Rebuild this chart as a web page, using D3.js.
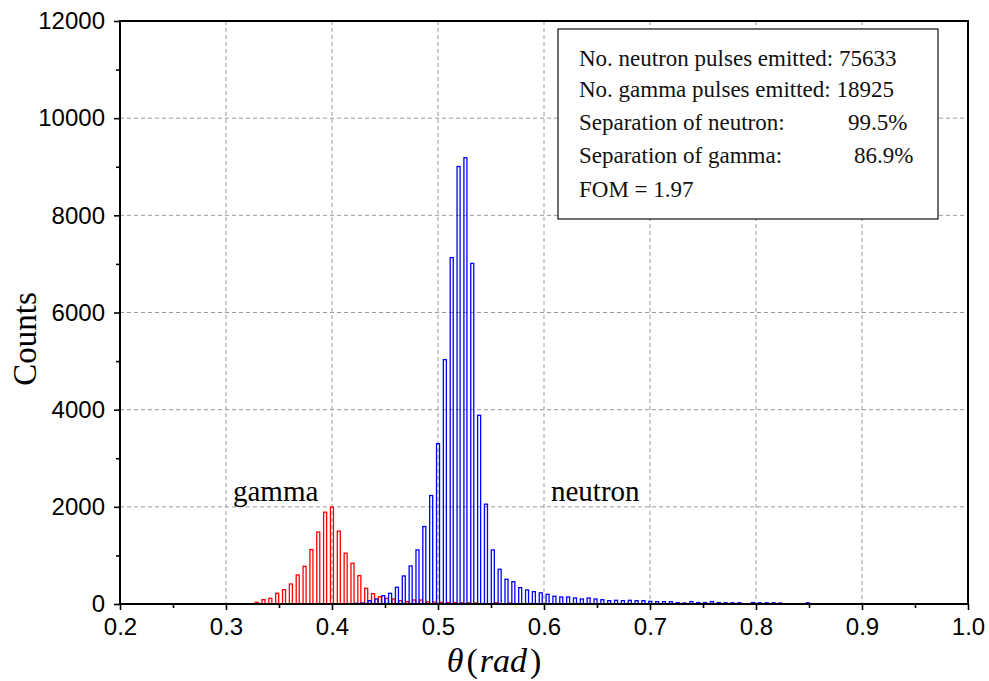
<!DOCTYPE html>
<html>
<head>
<meta charset="utf-8">
<script src="https://cdn.jsdelivr.net/npm/d3@7"></script>
<style>
  html, body { margin: 0; padding: 0; background: #fff; }
  svg { display: block; }
</style>
</head>
<body>
<svg id="chart" width="989" height="681"></svg>
<script>
// ---------------- DATA ----------------
const xTickValues = [0.2, 0.3, 0.4, 0.5, 0.6, 0.7, 0.8, 0.9, 1.0];
const xTickLabels = ["0.2", "0.3", "0.4", "0.5", "0.6", "0.7", "0.8", "0.9", "1.0"];
const xMinorTicks = [0.25, 0.35, 0.45, 0.55, 0.65, 0.75, 0.85, 0.95];
const yTickValues = [0, 2000, 4000, 6000, 8000, 10000, 12000];
const yTickLabels = ["0", "2000", "4000", "6000", "8000", "10000", "12000"];
const yMinorTicks = [1000, 3000, 5000, 7000, 9000, 11000];

const binWidth = 0.00646;          // histogram bin width (rad)
const gammaFirstCenter = 0.3289;   // centre of first gamma bin
const neutronFirstCenter = 0.4225; // centre of first neutron bin

const gammaCounts = [34, 89, 117, 220, 296, 412, 598, 777, 1120, 1480,
  1890, 1995, 1500, 1045, 838, 584, 323, 213, 151, 117,
  103, 69, 48, 82, 82, 45, 40, 35, 30, 30,
  25, 25, 20, 0, 0, 25, 0, 20];

const neutronCounts = [15, 20, 68, 103, 171, 220, 344, 577, 783, 1113, 1594, 2233,
  3300, 5030, 7130, 9005, 9185, 7010, 3885, 2055, 1113, 715,
  509, 460, 337, 289, 254, 230, 200, 160, 144, 144,
  124, 103, 124, 103, 89, 69, 76, 69, 76, 69,
  69, 55, 48, 48, 48, 27, 21, 50, 30, 30,
  50, 30, 25, 25, 25, 0, 30, 25, 25, 25,
  20, 0, 0, 0, 25];

const infoLines = [
  "No. neutron pulses emitted: 75633",
  "No. gamma pulses emitted: 18925",
  "Separation of neutron:",
  "Separation of gamma:",
  "FOM = 1.97"
];
const infoValues = ["", "", "99.5%", "86.9%", ""];

// ---------------- LAYOUT ----------------
const svg = d3.select("#chart");
const L = 120, R = 968, T = 21, B = 604;

const x = d3.scaleLinear().domain([0.2, 1.0]).range([L, R]);
const y = d3.scaleLinear().domain([0, 12000]).range([B, T]);

const sans = "'Liberation Sans', Arial, sans-serif";
const serif = "'Liberation Serif', 'Times New Roman', serif";

// grid
const grid = svg.append("g").attr("stroke", "#9a9a9a").attr("stroke-width", 1)
  .attr("stroke-dasharray", "4,3");
xTickValues.slice(1, -1).forEach(v => {
  grid.append("line").attr("x1", x(v)).attr("x2", x(v)).attr("y1", T).attr("y2", B);
});
yTickValues.slice(1, -1).forEach(v => {
  grid.append("line").attr("x1", L).attr("x2", R).attr("y1", y(v)).attr("y2", y(v));
});

// histogram bars
function drawBars(counts, firstCenter, color) {
  const data = counts.map((c, i) => ({ c: firstCenter + i * binWidth, v: c })).filter(d => d.v > 0);
  const half = binWidth * 0.22;
  svg.append("g").selectAll("rect").data(data).join("rect")
    .attr("x", d => x(d.c - half))
    .attr("width", d => x(d.c + half) - x(d.c - half))
    .attr("y", d => y(d.v))
    .attr("height", d => y(0) - y(d.v))
    .attr("fill", "none")
    .attr("stroke", color)
    .attr("stroke-width", 1.3);
}
drawBars(gammaCounts, gammaFirstCenter, "#ff0000");
drawBars(neutronCounts, neutronFirstCenter, "#0000ff");

// axes
const xAxis = svg.append("g").attr("transform", `translate(0,${B})`)
  .call(d3.axisBottom(x).tickValues(xTickValues).tickSize(6).tickPadding(8)
    .tickFormat((d, i) => xTickLabels[i]));
const xMinor = svg.append("g").attr("transform", `translate(0,${B})`)
  .call(d3.axisBottom(x).tickValues(xMinorTicks).tickSize(4).tickFormat(""));
const yAxis = svg.append("g").attr("transform", `translate(${L},0)`)
  .call(d3.axisLeft(y).tickValues(yTickValues).tickSize(6).tickPadding(9)
    .tickFormat((d, i) => yTickLabels[i]));
const yMinor = svg.append("g").attr("transform", `translate(${L},0)`)
  .call(d3.axisLeft(y).tickValues(yMinorTicks).tickSize(4).tickFormat(""));

[xAxis, xMinor, yAxis, yMinor].forEach(g => {
  g.select(".domain").remove();
  g.selectAll(".tick line").attr("stroke", "#000").attr("stroke-width", 1.6);
  g.selectAll(".tick text").attr("fill", "#000").attr("font-family", sans).attr("font-size", 24);
});

// frame
svg.append("rect").attr("x", L).attr("y", T).attr("width", R - L).attr("height", B - T)
  .attr("fill", "none").attr("stroke", "#000").attr("stroke-width", 2);

// axis titles
svg.append("text")
  .attr("transform", `translate(36,339) rotate(-90)`)
  .attr("text-anchor", "middle")
  .attr("font-family", serif).attr("font-size", 33).attr("fill", "#000")
  .text("Counts");

const xt = svg.append("text").attr("x", 494).attr("y", 672).attr("text-anchor", "middle")
  .attr("font-family", serif).attr("font-size", 34).attr("fill", "#000");
xt.append("tspan").attr("font-style", "italic").text("θ");
xt.append("tspan").attr("dx", 3).text("(");
xt.append("tspan").attr("font-style", "italic").attr("dx", 2).text("rad");
xt.append("tspan").attr("dx", 3).text(")");

// series labels
svg.append("text").attr("x", 233).attr("y", 501).attr("font-family", serif)
  .attr("font-size", 29).attr("fill", "#000").text("gamma");
svg.append("text").attr("x", 551).attr("y", 501).attr("font-family", serif)
  .attr("font-size", 29).attr("fill", "#000").text("neutron");

// info box
const bx = 558, by = 29, bw = 380, bh = 190;
svg.append("rect").attr("x", bx).attr("y", by).attr("width", bw).attr("height", bh)
  .attr("fill", "#fff").attr("stroke", "#222").attr("stroke-width", 1.3);
const baselines = [66, 97, 130, 163, 197];
const valueX = [0, 0, 848, 854, 0];
infoLines.forEach((t, i) => {
  svg.append("text").attr("x", 579).attr("y", baselines[i]).attr("font-family", serif)
    .attr("font-size", 23).attr("fill", "#111").text(t);
  if (infoValues[i]) {
    svg.append("text").attr("x", valueX[i]).attr("y", baselines[i]).attr("font-family", serif)
      .attr("font-size", 23).attr("fill", "#111").text(infoValues[i]);
  }
});
</script>
</body>
</html>
